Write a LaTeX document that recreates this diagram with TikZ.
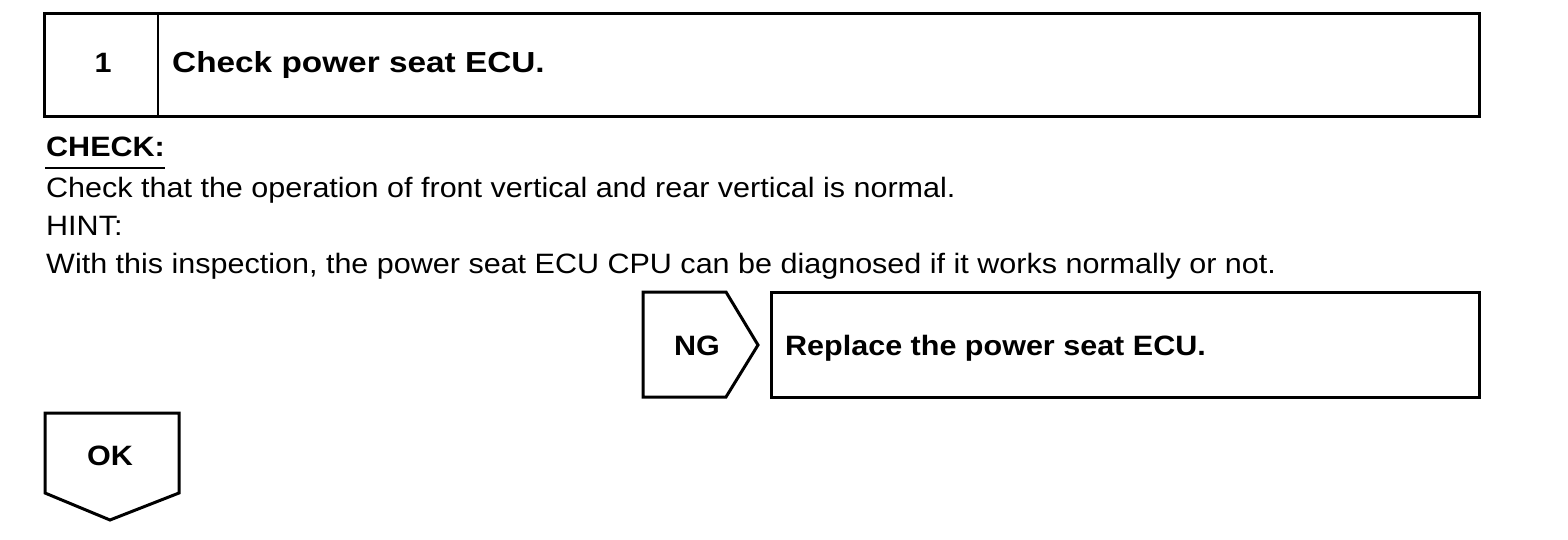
\documentclass[tikz,border=0pt]{standalone}
\usepackage{fontspec}
\setmainfont[FakeStretch=1.09]{Liberation Sans}
\newfontfamily\titlefont[FakeStretch=1.15]{Liberation Sans}
\begin{document}
\begin{tikzpicture}[x=1pt,y=-1pt,
  box/.style={line width=3pt, line join=miter},
  thin/.style={line width=2pt},
  txt/.style={inner sep=0pt, anchor=base west, font=\fontsize{28}{34}\selectfont},
  btxt/.style={inner sep=0pt, anchor=base west, font=\fontsize{28}{34}\selectfont\bfseries},
  ttxt/.style={inner sep=0pt, anchor=base west, font=\titlefont\fontsize{29}{34}\selectfont\bfseries},
  ctxt/.style={inner sep=0pt, anchor=base, font=\fontsize{28}{34}\selectfont\bfseries}]
\useasboundingbox (0,0) rectangle (1568,540);
% step box
\coordinate (s1) at (44,14);
\coordinate (s2) at (1479,117);
\draw[box] (s1) rectangle (s2);
\coordinate (d1) at (158,14);
\coordinate (d2) at (158,117);
\draw[thin] (d1) -- (d2);
\node[ctxt] (num) at (103,73) {1};
\node[ttxt] (title) at (172,73) {Check power seat ECU.};
% check text
\node[btxt] (check) at (46,157) {CHECK:};
\coordinate (u1) at (45,168);
\coordinate (u2) at (165,168);
\draw[thin] (u1) -- (u2);
\node[txt] (l1) at (46,197) {Check that the operation of front vertical and rear vertical is normal.};
\node[txt] (l2) at (46,235) {HINT:};
\node[txt] (l3) at (46,273) {With this inspection, the power seat ECU CPU can be diagnosed if it works normally or not.};
% NG
\draw[box] (643,292) -- (726,292) -- (758,345) -- (726,397) -- (643,397) -- cycle;
\node[ctxt] (ng) at (697,355) {NG};
\draw[box] (771,292) rectangle (1479,397);
\node[btxt] (repl) at (785,355) {Replace the power seat ECU.};
% OK
\draw[box] (45,413) -- (179,413) -- (179,493) -- (110,520) -- (45,493) -- cycle;
\node[ctxt] (ok) at (110,465) {OK};
\end{tikzpicture}
\end{document}
